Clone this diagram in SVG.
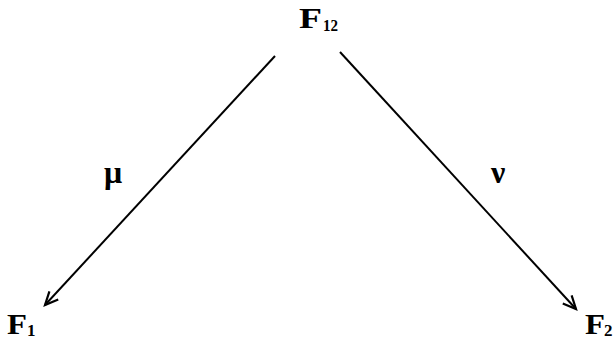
<svg xmlns="http://www.w3.org/2000/svg" width="615" height="341" viewBox="0 0 615 341">
<style>
.lbl{font-family:"Liberation Serif","Times New Roman",serif;font-weight:bold;fill:#000}
.big{font-size:29px}
.sub{font-size:17px}
.gr{font-size:32px}
.edge{stroke:#000;stroke-width:2;fill:none}
</style>
<defs>
<marker id="arr" markerUnits="userSpaceOnUse" markerWidth="20" markerHeight="20" viewBox="-14 -10 20 20" refX="0" refY="0" orient="auto">
<path d="M-13,-6 L0,0 L-13,6" fill="none" stroke="#000" stroke-width="2.2" stroke-linejoin="miter"/>
</marker>
</defs>
<rect width="615" height="341" fill="#fff"/>
<g id="connectors">
<line class="edge" x1="275" y1="56" x2="45" y2="305" marker-end="url(#arr)"/>
<line class="edge" x1="340" y1="52" x2="576" y2="309" marker-end="url(#arr)"/>
<text class="lbl gr" x="104" y="183">μ</text>
<text class="lbl gr" x="491" y="183">ν</text>
</g>
<g id="F12">
<text class="lbl big" x="299" y="28" textLength="23" lengthAdjust="spacingAndGlyphs">F</text>
<text class="lbl sub" x="323" y="31" textLength="15" lengthAdjust="spacingAndGlyphs">12</text>
</g>
<g id="F1">
<text class="lbl big" x="7" y="334" textLength="20" lengthAdjust="spacingAndGlyphs">F</text>
<text class="lbl sub" x="27" y="336">1</text>
</g>
<g id="F2">
<text class="lbl big" x="585" y="334" textLength="20" lengthAdjust="spacingAndGlyphs">F</text>
<text class="lbl sub" x="604" y="336">2</text>
</g>
</svg>
